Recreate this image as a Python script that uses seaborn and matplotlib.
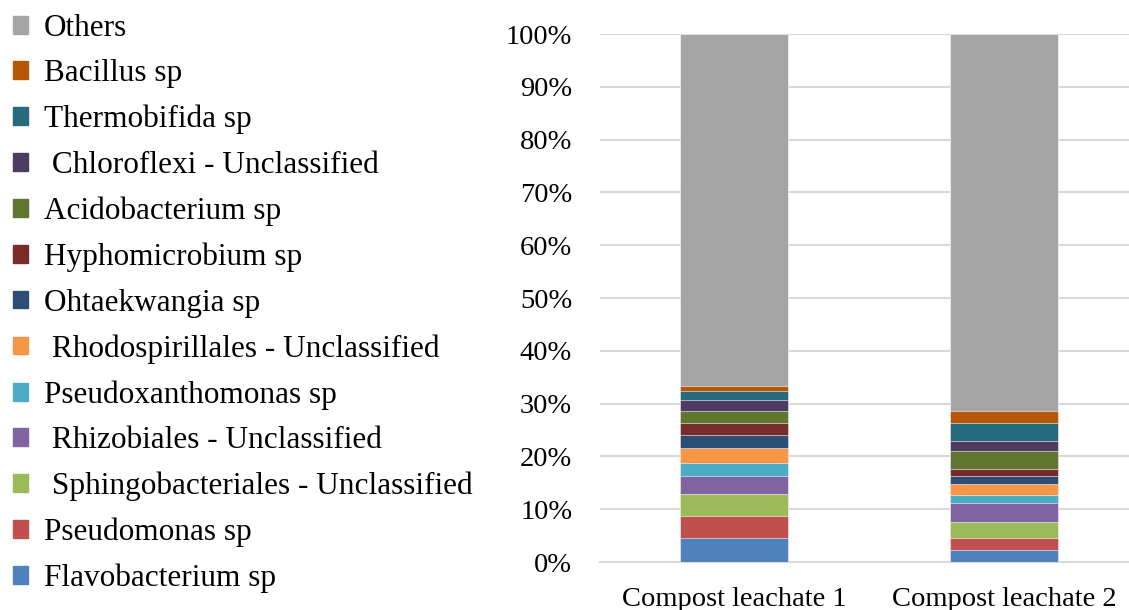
import pandas as pd
import matplotlib.pyplot as plt
import matplotlib.patches as mpatches
import seaborn as sns

# Data (% relative abundance)
samples = ['Compost leachate 1', 'Compost leachate 2']
taxa = ['Flavobacterium sp', 'Pseudomonas sp', ' Sphingobacteriales - Unclassified',
        ' Rhizobiales - Unclassified', 'Pseudoxanthomonas sp', ' Rhodospirillales - Unclassified',
        'Ohtaekwangia sp', 'Hyphomicrobium sp', 'Acidobacterium sp',
        ' Chloroflexi - Unclassified', 'Thermobifida sp', 'Bacillus sp', 'Others']
leachate_1 = [4.6, 4.2, 4.0, 3.4, 2.6, 2.7, 2.6, 2.2, 2.3, 2.0, 1.7, 1.0, 66.7]
leachate_2 = [2.3, 2.2, 3.0, 3.6, 1.6, 2.1, 1.4, 1.5, 3.4, 1.9, 3.4, 2.2, 71.4]
colors = ['#4F81BD', '#C0504D', '#9BBB59', '#8064A2', '#4BACC6', '#F79646',
          '#2C4D75', '#772C2A', '#5F7530', '#4D3B62', '#276A7C', '#B65708', '#A5A5A5']

df = pd.DataFrame({'taxon': taxa, samples[0]: leachate_1, samples[1]: leachate_2})
cum = df[samples].cumsum()

sns.set_style('white')
plt.rcParams['font.family'] = ['Liberation Serif', 'DejaVu Serif']

fig = plt.figure(figsize=(11.29, 6.1), dpi=100)
ax = fig.add_axes([600 / 1129, 48 / 610, 529 / 1129, 528 / 610])

# stacked look: draw cumulative totals from the top layer down
for i in range(len(taxa) - 1, -1, -1):
    sns.barplot(x=samples, y=cum.iloc[i].values, color=colors[i], width=0.4,
                saturation=1, edgecolor='white', linewidth=0.4, ax=ax, zorder=3)

ax.set_xlim(-0.496, 1.463)
ax.set_ylim(0, 100)
ax.set_yticks(range(0, 101, 10))
ax.set_yticklabels([f'{v}%' for v in range(0, 101, 10)])
ax.yaxis.grid(True, color='#D9D9D9', linewidth=1.5, zorder=0)
ax.set_axisbelow(True)
for s in ['top', 'right', 'left']:
    ax.spines[s].set_visible(False)
ax.spines['bottom'].set_color('#D9D9D9')
ax.spines['bottom'].set_linewidth(1.5)
ax.tick_params(length=0, labelsize=20.5, colors='black')
ax.tick_params(axis='x', pad=18)
ax.tick_params(axis='y', pad=20)
ax.set_xlabel('')
ax.set_ylabel('')

handles = [mpatches.Patch(color=colors[i], label=taxa[i]) for i in range(len(taxa) - 1, -1, -1)]
fig.legend(handles=handles, loc='upper left', bbox_to_anchor=(0.0, 0.998), frameon=False,
           fontsize=22.5, handlelength=0.5, handleheight=0.5, handletextpad=0.5,
           labelspacing=0.53, borderaxespad=0.2, borderpad=0.2, labelcolor='black')

fig.savefig('out.png', dpi=100)
